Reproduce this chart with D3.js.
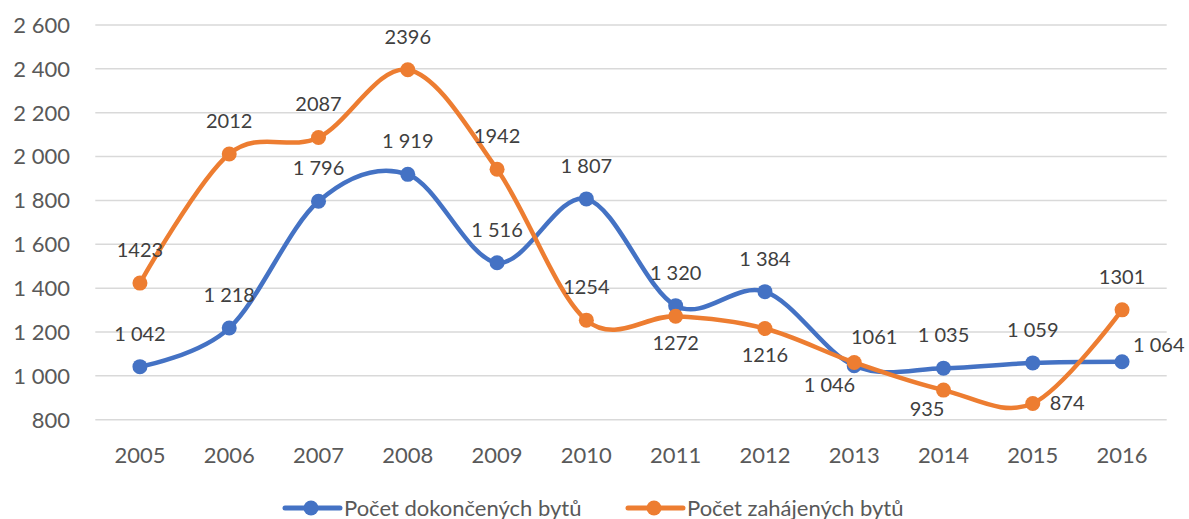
<!DOCTYPE html>
<html>
<head>
<meta charset="utf-8">
<script src="https://cdnjs.cloudflare.com/ajax/libs/d3/7.8.5/d3.min.js"></script>
<style>
  body { margin: 0; background: #fff; }
  svg { display: block; font-family: Lato, "Open Sans", sans-serif; }
</style>
</head>
<body>
<svg></svg>
<script>
var width = 1189;
var height = 519;

// data
var years = ['2005', '2006', '2007', '2008', '2009', '2010', '2011', '2012', '2013', '2014', '2015', '2016'];
var dokoncene = [1042, 1218, 1796, 1919, 1516, 1807, 1320, 1384, 1046, 1035, 1059, 1064];
var zahajene = [1423, 2012, 2087, 2396, 1942, 1254, 1272, 1216, 1061, 935, 874, 1301];
var yTicks = [800, 1000, 1200, 1400, 1600, 1800, 2000, 2200, 2400, 2600];
var seriesNames = ['Počet dokončených bytů', 'Počet zahájených bytů'];

// where each data label sits relative to its point
var blueLabelPos = ['t', 't', 't', 't', 't', 't', 't', 't', 'lb', 't', 't', 'rt'];
var orangeLabelPos = ['t', 't', 't', 't', 't', 't', 'b', 'b', 'tr', 'lb', 'r', 't'];

var placements = {
    t:  {dx: 0,  dy: -26, anchor: 'middle'},
    b:  {dx: 0,  dy: 34,  anchor: 'middle'},
    lb: {dx: 1,  dy: 26,  anchor: 'end'},
    r:  {dx: 17, dy: 7,   anchor: 'start'},
    rt: {dx: 11, dy: -10, anchor: 'start'},
    tr: {dx: 20, dy: -18, anchor: 'middle'}
};

var blue = '#4472c4';
var orange = '#ed7d31';

var spaceFmt = v => d3.format(',')(v).replace(/,/g, ' ');
var plainFmt = v => String(v);

var svg = d3.select('svg')
            .attr('width', width)
            .attr('height', height);

var x = d3.scaleBand()
            .domain(years)
            .range([95.3, 1166.7]);

var y = d3.scaleLinear()
            .domain([800, 2600])
            .range([419.7, 25]);

var cx = d => x(d) + x.bandwidth() / 2;

// gridlines
svg.append('g')
    .selectAll('line')
    .data(yTicks)
    .enter()
    .append('line')
        .attr('x1', x.range()[0])
        .attr('x2', x.range()[1])
        .attr('y1', d => y(d))
        .attr('y2', d => y(d))
        .attr('stroke', '#d9d9d9')
        .attr('stroke-width', 1.5);

// y axis labels
svg.append('g')
    .selectAll('text')
    .data(yTicks)
    .enter()
    .append('text')
        .attr('x', 70)
        .attr('y', d => y(d))
        .attr('dy', '0.36em')
        .attr('text-anchor', 'end')
        .attr('fill', '#595959')
        .style('font-size', '22px')
        .text(spaceFmt);

// x axis labels
svg.append('g')
    .selectAll('text')
    .data(years)
    .enter()
    .append('text')
        .attr('x', cx)
        .attr('y', 463)
        .attr('text-anchor', 'middle')
        .attr('fill', '#595959')
        .style('font-size', '22px')
        .text(d => d);

var line = d3.line()
            .x(d => cx(d.year))
            .y(d => y(d.value))
            .curve(d3.curveCatmullRom.alpha(0));

function drawSeries(values, color, labelPos) {
    var pts = values.map((v, i) => ({year: years[i], value: v, pos: labelPos[i]}));
    var g = svg.append('g');

    g.append('path')
        .datum(pts)
        .attr('fill', 'none')
        .attr('stroke', color)
        .attr('stroke-width', 4.5)
        .attr('stroke-linecap', 'round')
        .attr('d', line);

    g.selectAll('circle')
        .data(pts)
        .enter()
        .append('circle')
            .attr('cx', d => cx(d.year))
            .attr('cy', d => y(d.value))
            .attr('r', 7.5)
            .attr('fill', color);

    return pts;
}

function drawLabels(pts, fmt) {
    svg.append('g')
        .selectAll('text')
        .data(pts)
        .enter()
        .append('text')
            .attr('x', d => cx(d.year) + placements[d.pos].dx)
            .attr('y', d => y(d.value) + placements[d.pos].dy)
            .attr('text-anchor', d => placements[d.pos].anchor)
            .attr('fill', '#404040')
            .style('font-size', '20px')
            .text(d => fmt(d.value));
}

var bluePts = drawSeries(dokoncene, blue, blueLabelPos);
var orangePts = drawSeries(zahajene, orange, orangeLabelPos);
drawLabels(bluePts, spaceFmt);
drawLabels(orangePts, plainFmt);

// legend
var legendItems = [
    {name: seriesNames[0], color: blue, x: 285},
    {name: seriesNames[1], color: orange, x: 628}
];
var li = svg.append('g')
    .selectAll('g')
    .data(legendItems)
    .enter()
    .append('g')
        .attr('transform', d => `translate(${d.x}, 508)`);

li.append('line')
    .attr('x1', 0)
    .attr('x2', 55)
    .attr('stroke', d => d.color)
    .attr('stroke-width', 5)
    .attr('stroke-linecap', 'round');

li.append('circle')
    .attr('cx', 26)
    .attr('r', 7.5)
    .attr('fill', d => d.color);

li.append('text')
    .attr('x', 59)
    .attr('y', 8)
    .attr('fill', '#595959')
    .style('font-size', '22px')
    .text(d => d.name);
</script>
</body>
</html>
